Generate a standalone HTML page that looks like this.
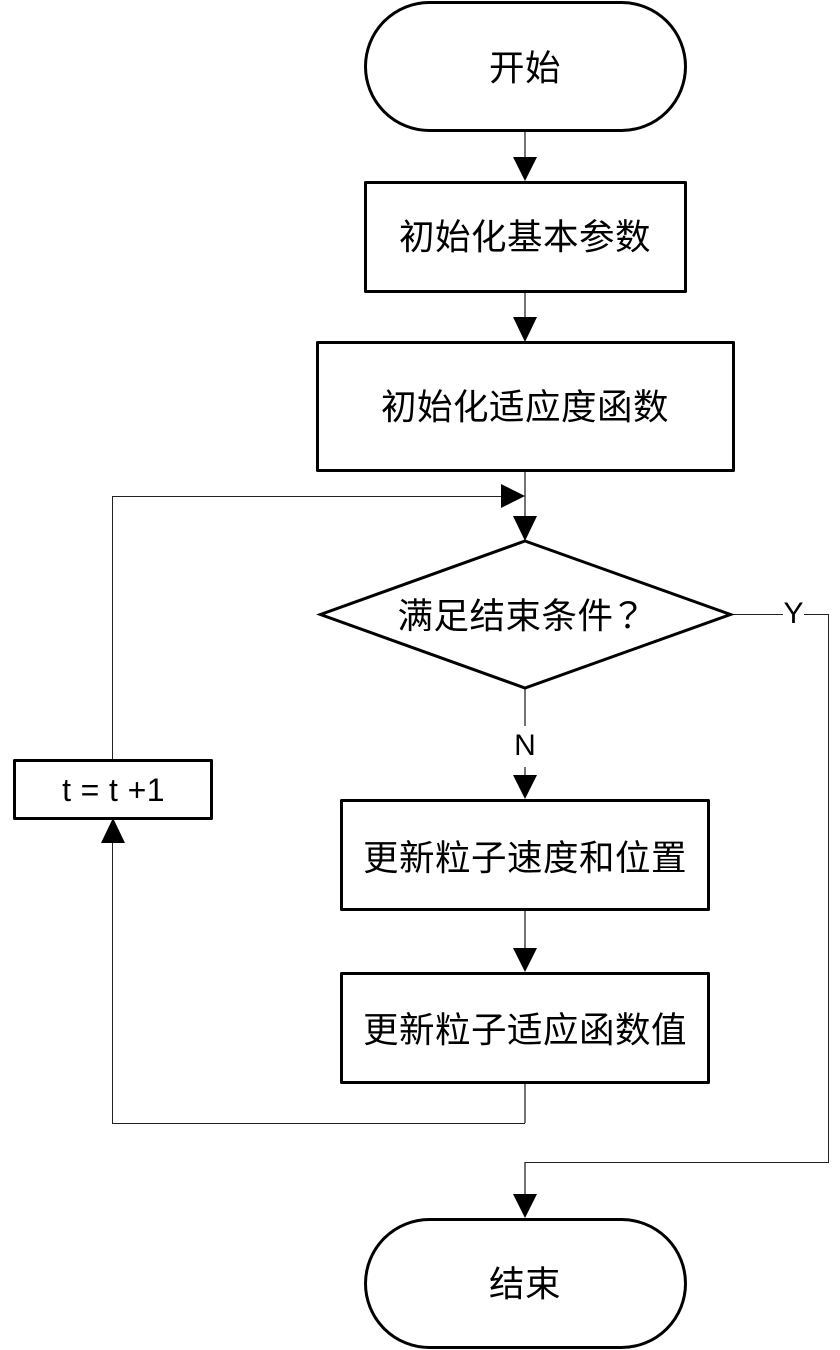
<!DOCTYPE html>
<html>
<head>
<meta charset="utf-8">
<style>
html,body{margin:0;padding:0;background:#fff;width:840px;height:1350px;overflow:hidden}
svg{display:block}
text{font-family:"Liberation Sans","Noto Sans CJK SC",sans-serif;fill:#000;text-anchor:middle}
.cjk{font-size:35.500px;letter-spacing:0.500px}
</style>
</head>
<body>
<svg width="840" height="1350" viewBox="0 0 840 1350" xmlns="http://www.w3.org/2000/svg">
<g fill="none" stroke="#444" stroke-width="1.500">
<path d="M525 131V160"/>
<path d="M525 292V320"/>
<path d="M525 470V518"/>
<path d="M525 688V726"/>
<path d="M525 767V776"/>
<path d="M525 909V950"/>
<path d="M525 1082V1123"/>
<path d="M525 1162V1195"/>
</g>
<g fill="none" stroke="#222" stroke-width="1">
<path d="M112.500 760V496.500H502"/>
<path d="M525 1123.500H112.500V842"/>
<path d="M733 614.500H783"/>
<path d="M804 614.500H828.500V1162.500H525"/>
</g>
<g fill="#000">
<path d="M513 157H537L525 181Z"/>
<path d="M513 317H537L525 342Z"/>
<path d="M513 516H537L525 541Z"/>
<path d="M501 484L525 496L501 508Z"/>
<path d="M513 775H537L525 799Z"/>
<path d="M513 948H537L525 972Z"/>
<path d="M101 843L113 818L125 843Z"/>
<path d="M513 1194H537L525 1218Z"/>
</g>
<g fill="#fff" stroke="#000" stroke-width="3" stroke-linejoin="round">
<rect x="365.500" y="2.500" width="320" height="128" rx="64" ry="64"/>
<rect x="365.500" y="182.500" width="320" height="109"/>
<rect x="317.500" y="342.500" width="416" height="128"/>
<rect x="14.500" y="760.500" width="197" height="58"/>
<rect x="341.500" y="800.500" width="367" height="109"/>
<rect x="341.500" y="973.500" width="367" height="109"/>
<rect x="365.500" y="1219.500" width="320" height="128" rx="64" ry="64"/>
</g>
<path d="M525 541L730.500 614.500L525 688L320.500 614.500Z" fill="#fff" stroke="#000" stroke-width="3"/>
<text class="cjk" x="525" y="80">开始</text>
<text class="cjk" x="525" y="249">初始化基本参数</text>
<text class="cjk" x="525" y="419">初始化适应度函数</text>
<text class="cjk" x="505.500" y="628">满足结束条件</text>
<text x="628" y="628" font-size="35.500" style="font-family:'Noto Sans CJK JP',sans-serif">？</text>
<text class="cjk" x="525" y="870">更新粒子速度和位置</text>
<text class="cjk" x="525" y="1042">更新粒子适应函数值</text>
<text class="cjk" x="525" y="1296">结束</text>
<text x="113.500" y="801" font-size="32" letter-spacing="0.400">t = t +1</text>
<text x="525" y="755" font-size="30">N</text>
<text x="793.500" y="623" font-size="30">Y</text>
</svg>
</body>
</html>
